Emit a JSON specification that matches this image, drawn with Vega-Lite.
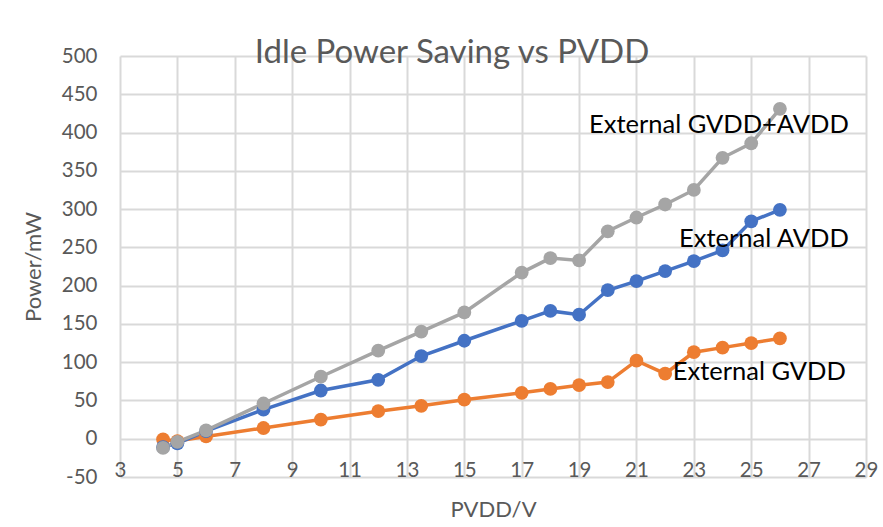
{
  "$schema": "https://vega.github.io/schema/vega-lite/v6.json",
  "width": 746,
  "height": 421,
  "autosize": {"type": "none"},
  "padding": {"left": 120, "top": 56, "right": 17, "bottom": 50},
  "background": "white",
  "title": {
    "text": "Idle Power Saving vs PVDD",
    "font": "Lato",
    "fontSize": 33,
    "fontWeight": "normal",
    "color": "#595959",
    "anchor": "middle",
    "baseline": "alphabetic",
    "offset": -50,
    "dx": -41
  },
  "datasets": {
    "series": [
      {"pvdd": 4.5, "power": -1, "series": "External GVDD"},
      {"pvdd": 5, "power": -3, "series": "External GVDD"},
      {"pvdd": 6, "power": 3, "series": "External GVDD"},
      {"pvdd": 8, "power": 14, "series": "External GVDD"},
      {"pvdd": 10, "power": 25, "series": "External GVDD"},
      {"pvdd": 12, "power": 36, "series": "External GVDD"},
      {"pvdd": 13.5, "power": 43, "series": "External GVDD"},
      {"pvdd": 15, "power": 51, "series": "External GVDD"},
      {"pvdd": 17, "power": 60, "series": "External GVDD"},
      {"pvdd": 18, "power": 65, "series": "External GVDD"},
      {"pvdd": 19, "power": 70, "series": "External GVDD"},
      {"pvdd": 20, "power": 74, "series": "External GVDD"},
      {"pvdd": 21, "power": 102, "series": "External GVDD"},
      {"pvdd": 22, "power": 85, "series": "External GVDD"},
      {"pvdd": 23, "power": 113, "series": "External GVDD"},
      {"pvdd": 24, "power": 119, "series": "External GVDD"},
      {"pvdd": 25, "power": 125, "series": "External GVDD"},
      {"pvdd": 26, "power": 131, "series": "External GVDD"},
      {"pvdd": 4.5, "power": -11, "series": "External AVDD"},
      {"pvdd": 5, "power": -6, "series": "External AVDD"},
      {"pvdd": 6, "power": 10, "series": "External AVDD"},
      {"pvdd": 8, "power": 38, "series": "External AVDD"},
      {"pvdd": 10, "power": 63, "series": "External AVDD"},
      {"pvdd": 12, "power": 77, "series": "External AVDD"},
      {"pvdd": 13.5, "power": 108, "series": "External AVDD"},
      {"pvdd": 15, "power": 128, "series": "External AVDD"},
      {"pvdd": 17, "power": 154, "series": "External AVDD"},
      {"pvdd": 18, "power": 167, "series": "External AVDD"},
      {"pvdd": 19, "power": 162, "series": "External AVDD"},
      {"pvdd": 20, "power": 194, "series": "External AVDD"},
      {"pvdd": 21, "power": 206, "series": "External AVDD"},
      {"pvdd": 22, "power": 219, "series": "External AVDD"},
      {"pvdd": 23, "power": 232, "series": "External AVDD"},
      {"pvdd": 24, "power": 246, "series": "External AVDD"},
      {"pvdd": 25, "power": 284, "series": "External AVDD"},
      {"pvdd": 26, "power": 299, "series": "External AVDD"},
      {"pvdd": 4.5, "power": -12, "series": "External GVDD+AVDD"},
      {"pvdd": 5, "power": -4, "series": "External GVDD+AVDD"},
      {"pvdd": 6, "power": 11, "series": "External GVDD+AVDD"},
      {"pvdd": 8, "power": 46, "series": "External GVDD+AVDD"},
      {"pvdd": 10, "power": 81, "series": "External GVDD+AVDD"},
      {"pvdd": 12, "power": 115, "series": "External GVDD+AVDD"},
      {"pvdd": 13.5, "power": 140, "series": "External GVDD+AVDD"},
      {"pvdd": 15, "power": 165, "series": "External GVDD+AVDD"},
      {"pvdd": 17, "power": 217, "series": "External GVDD+AVDD"},
      {"pvdd": 18, "power": 236, "series": "External GVDD+AVDD"},
      {"pvdd": 19, "power": 233, "series": "External GVDD+AVDD"},
      {"pvdd": 20, "power": 271, "series": "External GVDD+AVDD"},
      {"pvdd": 21, "power": 289, "series": "External GVDD+AVDD"},
      {"pvdd": 22, "power": 306, "series": "External GVDD+AVDD"},
      {"pvdd": 23, "power": 325, "series": "External GVDD+AVDD"},
      {"pvdd": 24, "power": 367, "series": "External GVDD+AVDD"},
      {"pvdd": 25, "power": 386, "series": "External GVDD+AVDD"},
      {"pvdd": 26, "power": 431, "series": "External GVDD+AVDD"}
    ],
    "labels": [
      {"pvdd": 28.4, "power": 410, "label": "External GVDD+AVDD"},
      {"pvdd": 28.4, "power": 261, "label": "External AVDD"},
      {"pvdd": 28.3, "power": 87, "label": "External GVDD"}
    ]
  },
  "config": {
    "view": {"stroke": null},
    "axis": {
      "labelFont": "Lato",
      "titleFont": "Lato",
      "labelColor": "#595959",
      "titleColor": "#595959",
      "titleFontWeight": "normal",
      "labelFontSize": 20.5,
      "titleFontSize": 22,
      "gridColor": "#d9d9d9",
      "gridWidth": 2,
      "domain": false,
      "ticks": false,
      "labelOverlap": false
    },
    "axisY": {"labelOverlap": false},
    "axisQuantitative": {"labelOverlap": false}
  },
  "resolve": {"axis": {"y": "shared", "x": "shared"}},
  "layer": [
    {
      "data": {"name": "series"},
      "mark": {"type": "line", "strokeWidth": 3.5, "point": {"filled": true, "size": 190, "opacity": 1}},
      "encoding": {
        "x": {
          "field": "pvdd", "type": "quantitative",
          "scale": {"domain": [3, 29], "nice": false, "zero": false},
          "axis": {"values": [3,5,7,9,11,13,15,17,19,21,23,25,27,29], "title": "PVDD/V", "labelBaseline": "alphabetic", "labelPadding": -1, "titlePadding": 19, "labelFlush": false, "labelOverlap": false}
        },
        "y": {
          "field": "power", "type": "quantitative",
          "scale": {"domain": [-50, 500], "nice": false, "zero": false},
          "axis": {"values": [-50,0,50,100,150,200,250,300,350,400,450,500], "tickCount": 12, "title": "Power/mW", "labelExpr": "datum.value + ''", "labelPadding": 23, "titlePadding": 16, "labelOverlap": false, "labelBound": false, "labelFlush": false}
        },
        "color": {
          "field": "series", "type": "nominal",
          "scale": {"domain": ["External GVDD", "External AVDD", "External GVDD+AVDD"], "range": ["#ED7D31", "#4472C4", "#A5A5A5"]},
          "legend": null
        }
      }
    },
    {
      "data": {"name": "labels"},
      "mark": {"type": "text", "font": "Lato", "fontSize": 25.5, "align": "right", "baseline": "middle", "color": "#000000"},
      "encoding": {
        "x": {"field": "pvdd", "type": "quantitative",
          "axis": {"values": [3,5,7,9,11,13,15,17,19,21,23,25,27,29], "title": "PVDD/V", "labelBaseline": "alphabetic", "labelPadding": -1, "titlePadding": 19, "labelFlush": false, "labelOverlap": false}},
        "y": {"field": "power", "type": "quantitative",
          "axis": {"values": [-50,0,50,100,150,200,250,300,350,400,450,500], "tickCount": 12, "title": "Power/mW", "labelExpr": "datum.value + ''", "labelPadding": 23, "titlePadding": 16, "labelOverlap": false, "labelBound": false, "labelFlush": false}},
        "text": {"field": "label"}
      }
    }
  ]
}
